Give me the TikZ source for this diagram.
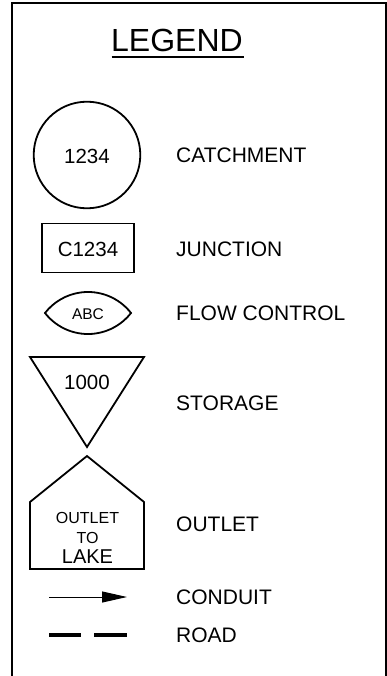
\documentclass[tikz,border=0pt]{standalone}
\usepackage{fontspec}
\setmainfont{Liberation Sans}
\usetikzlibrary{arrows.meta}
\begin{document}
\begin{tikzpicture}[x=1pt,y=-1pt,
  shapeline/.style={line width=1.8pt,line join=miter},
  lbl/.style={anchor=base west,inner sep=0pt,font=\fontsize{21}{21}\selectfont},
  inner/.style={anchor=base,inner sep=0pt,font=\fontsize{20.5}{20.5}\selectfont},
  small/.style={anchor=base,inner sep=0pt,font=\fontsize{16}{16}\selectfont}]
\useasboundingbox (0,0) rectangle (387,676);
% frame
\coordinate (fbl) at (11.5,677);
\coordinate (ftl) at (11.5,3.3);
\coordinate (ftr) at (385.5,3.3);
\coordinate (fbr) at (385.5,677);
\draw[line width=2pt] (fbl) -- (ftl) -- (ftr) -- (fbr);
% title
\node[anchor=base,inner sep=0pt,font=\fontsize{32}{32}\selectfont] (title) at (177,52) {LEGEND};
\coordinate (ul1) at (111.5,57);
\coordinate (ul2) at (243.5,57);
\draw[line width=2pt] (ul1) -- (ul2);
% catchment
\draw[shapeline] (87,155) circle[radius=53.3];
\node[inner] (catch) at (87,163.3) {1234};
\node[lbl] (lcatch) at (176,163) {CATCHMENT};
% junction
\draw[shapeline] (42,223.5) rectangle (134,272.5);
\node[inner] (junc) at (88,256) {C1234};
\node[lbl] (ljunc) at (176,256) {JUNCTION};
% flow control
\draw[shapeline] (45,313) arc[start angle=142.1,end angle=37.9,radius=54.5]
  arc[start angle=-37.9,end angle=-142.1,radius=54.5] -- cycle;
\node[anchor=base,inner sep=0pt,font=\fontsize{15.5}{15.5}\selectfont] (fc) at (88,319) {ABC};
\node[lbl] (lfc) at (176,320.5) {FLOW CONTROL};
% storage
\draw[shapeline] (30,357) -- (144,357) -- (87,447) -- cycle;
\node[inner] (stor) at (87,389) {1000};
\node[lbl] (lstor) at (176,410) {STORAGE};
% outlet
\draw[shapeline] (87,456) -- (144,502) -- (144,569) -- (30,569) -- (30,502) -- cycle;
\node[small] (out1) at (87.5,523.3) {OUTLET};
\node[small] (out2) at (87.5,543.3) {TO};
\node[inner,font=\fontsize{20}{20}\selectfont] (out3) at (87.5,563.3) {LAKE};
\node[lbl] (lout) at (176,531) {OUTLET};
% conduit
\coordinate (ca) at (49,597);
\coordinate (cb) at (127,597);
\draw[line width=1pt,-{Triangle[length=25pt,width=11pt]}] (ca) -- (cb);
\node[lbl] (lcond) at (176,604.5) {CONDUIT};
% road
\coordinate (r1) at (49,634.7);
\coordinate (r2) at (81,634.7);
\coordinate (r3) at (94,634.7);
\coordinate (r4) at (127,634.7);
\draw[line width=4pt] (r1) -- (r2) (r3) -- (r4);
\node[lbl] (lroad) at (176,642) {ROAD};
\end{tikzpicture}
\end{document}
